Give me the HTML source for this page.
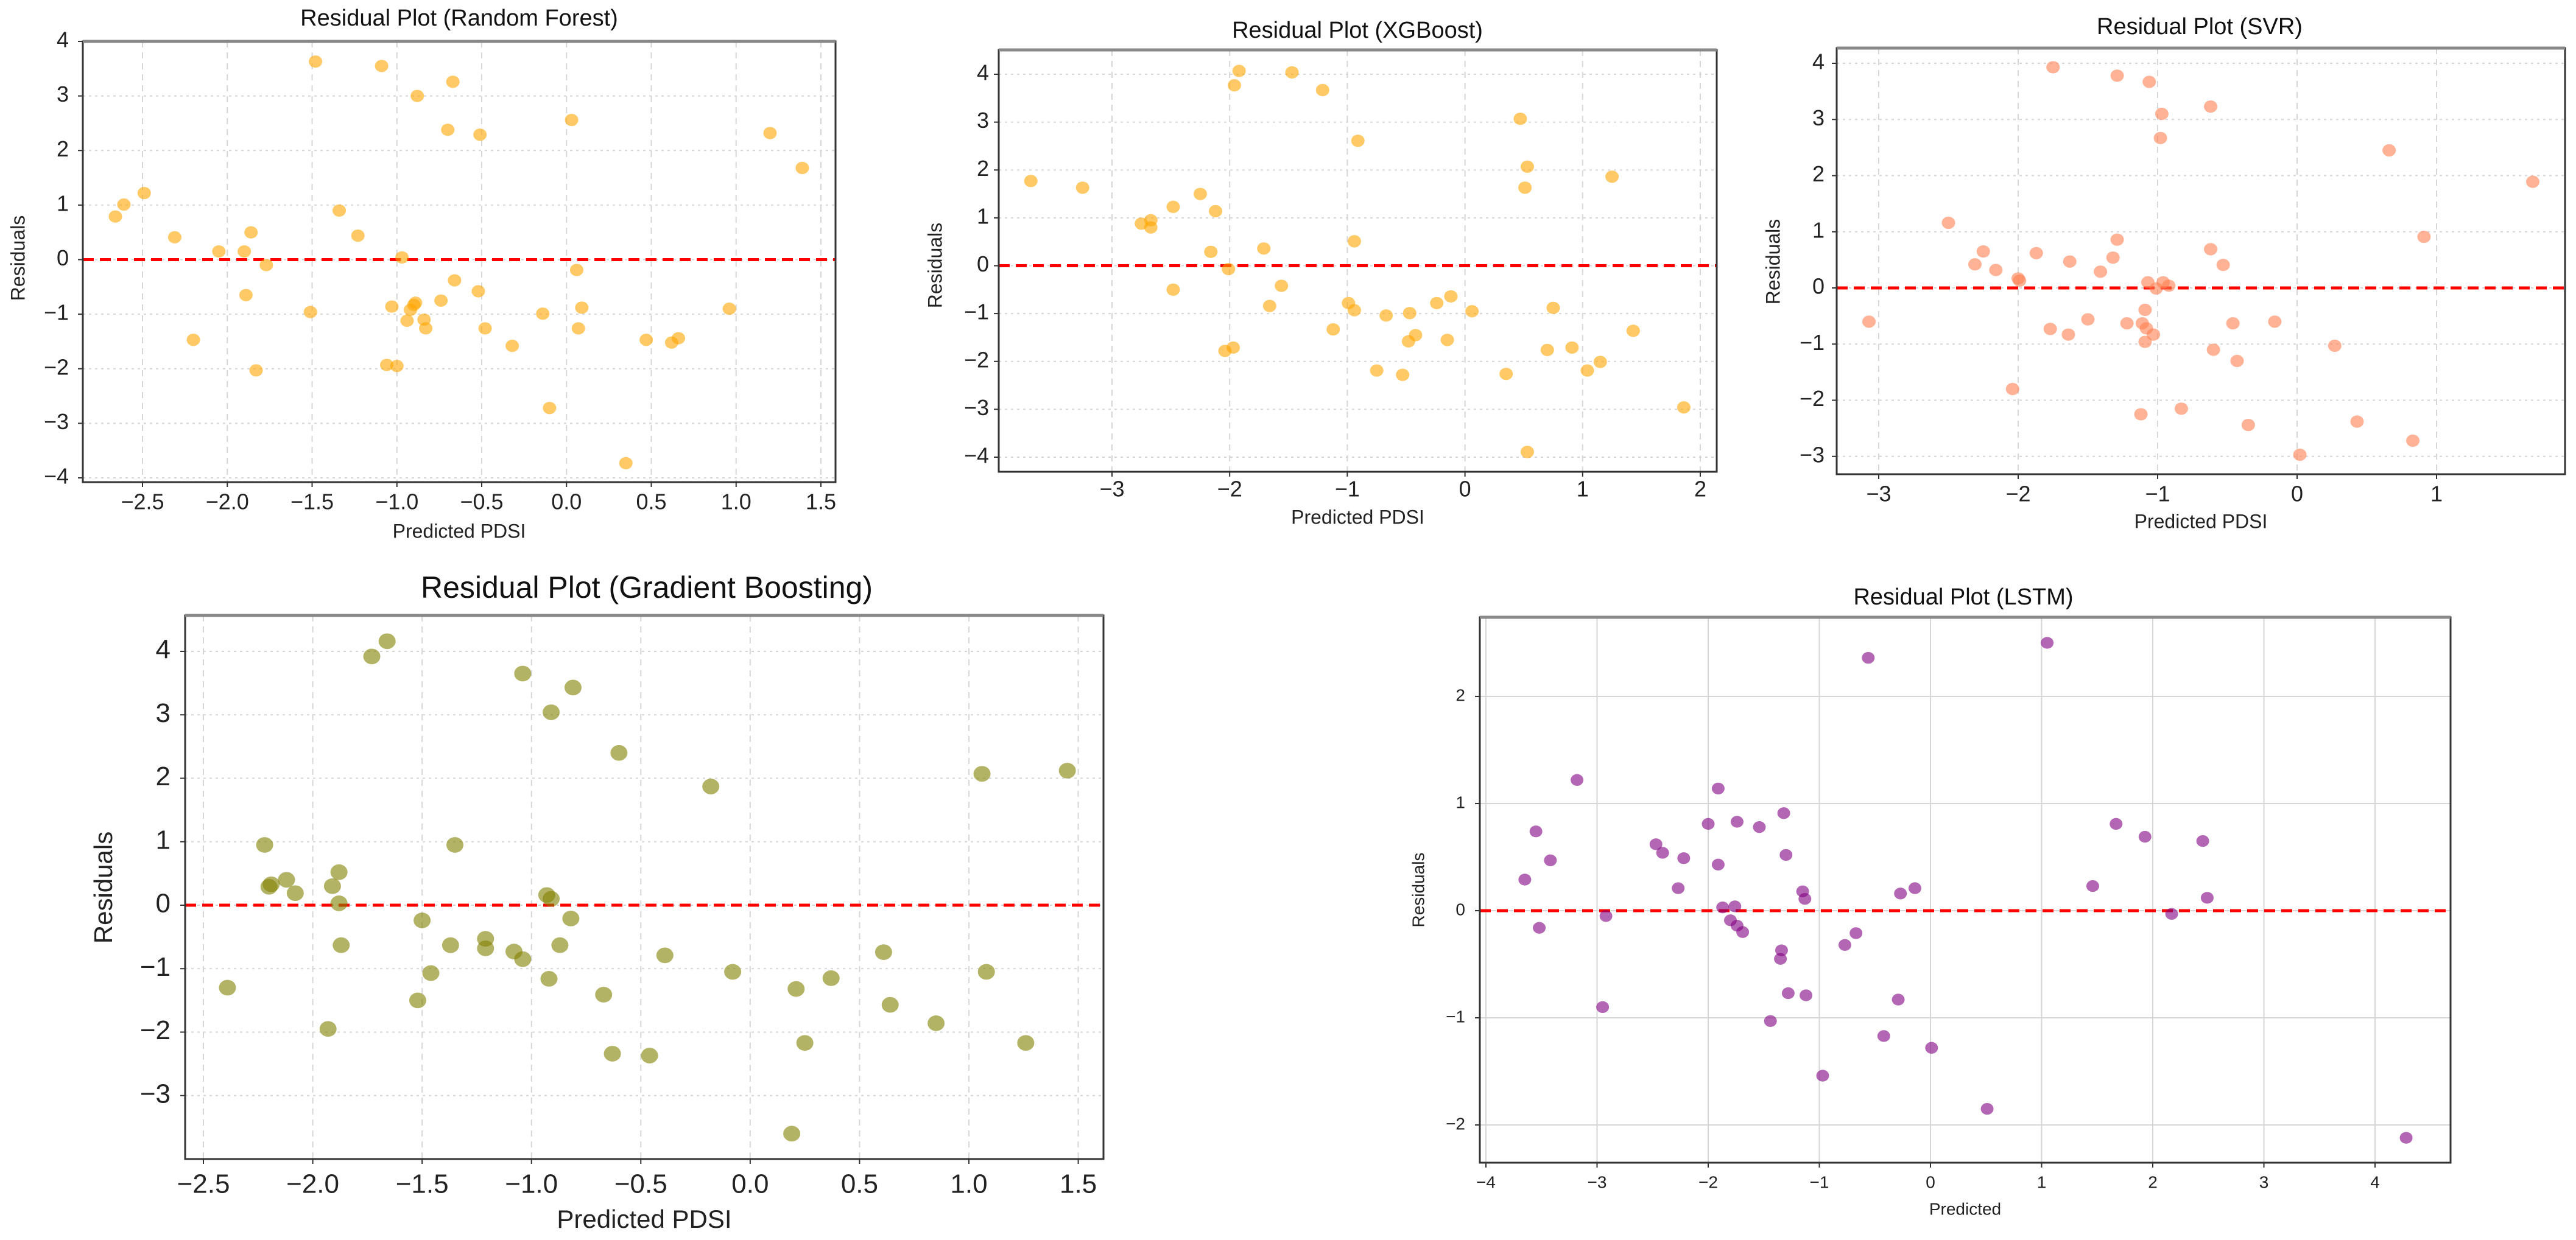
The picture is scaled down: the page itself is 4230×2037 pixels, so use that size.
<!DOCTYPE html>
<html><head><meta charset="utf-8">
<style>
html,body{margin:0;padding:0;background:#fff;}
svg{display:block;font-family:"Liberation Sans","DejaVu Sans",sans-serif;}
</style></head>
<body>
<svg id="fig" width="4230" height="2037" viewBox="0 0 4230 2037" xmlns="http://www.w3.org/2000/svg">
<rect width="4230" height="2037" fill="#fff"/>
</svg>
<script>
const rfX=[-2.66,-2.61,-2.49,-2.31,-2.20,-2.05,-1.90,-1.86,-1.89,-1.83,-1.77,-1.51,-1.48,-1.34,-1.23,-1.09,-1.06,-1.03,-1.00,-0.97,-0.94,-0.92,-0.90,-0.89,-0.88,-0.84,-0.83,-0.74,-0.70,-0.67,-0.66,-0.52,-0.51,-0.48,-0.32,-0.14,-0.10,0.03,0.06,0.07,0.09,0.35,0.47,0.62,0.66,0.96,1.20,1.39];
const rfY=[0.79,1.01,1.22,0.41,-1.47,0.15,0.15,0.50,-0.65,-2.03,-0.10,-0.96,3.63,0.90,0.44,3.55,-1.93,-0.86,-1.95,0.04,-1.12,-0.92,-0.83,-0.79,3.00,-1.10,-1.26,-0.75,2.38,3.26,-0.38,-0.58,2.29,-1.26,-1.58,-0.99,-2.72,2.56,-0.19,-1.26,-0.88,-3.73,-1.47,-1.52,-1.44,-0.90,2.32,1.68];
const xgbX=[-3.69,-3.25,-2.75,-2.67,-2.67,-2.48,-2.48,-2.25,-2.16,-2.12,-2.04,-2.01,-1.97,-1.96,-1.92,-1.71,-1.66,-1.56,-1.47,-1.21,-1.12,-0.99,-0.94,-0.94,-0.91,-0.75,-0.67,-0.53,-0.48,-0.47,-0.42,-0.24,-0.15,-0.12,0.06,0.35,0.47,0.51,0.53,0.53,0.70,0.75,0.91,1.04,1.15,1.25,1.43,1.86];
const xgbY=[1.77,1.63,0.88,0.95,0.80,1.23,-0.50,1.50,0.29,1.14,-1.78,-0.07,-1.71,3.77,4.07,0.36,-0.84,-0.42,4.04,3.67,-1.33,-0.78,-0.93,0.51,2.61,-2.19,-1.04,-2.28,-1.58,-0.99,-1.45,-0.78,-1.55,-0.64,-0.95,-2.26,3.07,1.63,2.07,-3.89,-1.76,-0.88,-1.71,-2.19,-2.01,1.86,-1.36,-2.96];
const svrX=[-3.07,-2.50,-2.31,-2.25,-2.16,-2.04,-2.00,-1.99,-1.87,-1.77,-1.75,-1.64,-1.63,-1.50,-1.41,-1.32,-1.29,-1.29,-1.22,-1.12,-1.11,-1.09,-1.09,-1.08,-1.07,-1.06,-1.03,-1.01,-0.98,-0.97,-0.96,-0.92,-0.83,-0.62,-0.62,-0.60,-0.53,-0.46,-0.43,-0.35,-0.16,0.02,0.27,0.43,0.66,0.83,0.91,1.69];
const svrY=[-0.60,1.16,0.42,0.65,0.32,-1.80,0.17,0.13,0.62,-0.73,3.93,-0.83,0.47,-0.56,0.29,0.54,3.78,0.86,-0.63,-2.25,-0.63,-0.39,-0.96,-0.72,0.10,3.67,-0.83,-0.01,2.67,3.10,0.10,0.04,-2.15,3.23,0.69,-1.10,0.41,-0.63,-1.30,-2.44,-0.60,-2.97,-1.03,-2.38,2.45,-2.72,0.91,1.89];
const gbX=[-2.39,-2.22,-2.20,-2.19,-2.12,-2.08,-1.93,-1.91,-1.88,-1.88,-1.87,-1.73,-1.66,-1.52,-1.50,-1.46,-1.37,-1.35,-1.21,-1.21,-1.08,-1.04,-1.04,-0.93,-0.91,-0.92,-0.91,-0.87,-0.82,-0.81,-0.67,-0.63,-0.60,-0.46,-0.39,-0.18,-0.08,0.19,0.21,0.25,0.37,0.61,0.64,0.85,1.06,1.08,1.26,1.45];
const gbY=[-1.30,0.95,0.29,0.33,0.40,0.19,-1.95,0.30,0.52,0.03,-0.63,3.92,4.16,-1.50,-0.24,-1.07,-0.63,0.95,-0.53,-0.68,-0.73,-0.85,3.65,0.16,0.10,-1.16,3.04,-0.63,-0.21,3.43,-1.41,-2.34,2.40,-2.37,-0.79,1.87,-1.05,-3.60,-1.32,-2.17,-1.15,-0.74,-1.57,-1.86,2.07,-1.05,-2.17,2.12];
const lstmX=[-3.65,-3.55,-3.52,-3.42,-3.18,-2.95,-2.92,-2.47,-2.41,-2.27,-2.22,-2.00,-1.91,-1.91,-1.87,-1.80,-1.76,-1.74,-1.74,-1.69,-1.54,-1.44,-1.35,-1.34,-1.32,-1.30,-1.28,-1.15,-1.13,-1.12,-0.97,-0.77,-0.67,-0.56,-0.42,-0.29,-0.27,-0.14,0.01,0.51,1.05,1.46,1.67,1.93,2.17,2.45,2.49,4.28];
const lstmY=[0.29,0.74,-0.16,0.47,1.22,-0.90,-0.05,0.62,0.54,0.21,0.49,0.81,1.14,0.43,0.03,-0.09,0.04,-0.14,0.83,-0.20,0.78,-1.03,-0.45,-0.37,0.91,0.52,-0.77,0.18,0.11,-0.79,-1.54,-0.32,-0.21,2.36,-1.17,-0.83,0.16,0.21,-1.28,-1.85,2.50,0.23,0.81,0.69,-0.03,0.65,0.12,-2.12];
const rfXTicks=[-2.5,-2.0,-1.5,-1.0,-0.5,0.0,0.5,1.0,1.5];
const rfYTicks=[-4,-3,-2,-1,0,1,2,3,4];
const xgbXTicks=[-3,-2,-1,0,1,2];
const xgbYTicks=[-4,-3,-2,-1,0,1,2,3,4];
const svrXTicks=[-3,-2,-1,0,1];
const svrYTicks=[-3,-2,-1,0,1,2,3,4];
const gbXTicks=[-2.5,-2.0,-1.5,-1.0,-0.5,0.0,0.5,1.0,1.5];
const gbYTicks=[-3,-2,-1,0,1,2,3,4];
const lstmXTicks=[-4,-3,-2,-1,0,1,2,3,4];
const lstmYTicks=[-2,-1,0,1,2];

const NS="http://www.w3.org/2000/svg";
const fig=document.getElementById('fig');
function mk(tag,attrs,parent){const e=document.createElementNS(NS,tag);for(const k in attrs)e.setAttribute(k,attrs[k]);(parent||fig).appendChild(e);return e;}
function fmt(v,dec){const s=Math.abs(v).toFixed(dec);return (v<0?'\u2212':'')+s;}

const panels=[
 {id:'random-forest',title:'Residual Plot (Random Forest)',xl:'Predicted PDSI',X:rfX,Y:rfY,xt:rfXTicks,yt:rfYTicks,dec:1,
  L:136,R:1372,T:68,B:792,xa:[-2.5,234,1.5,1348],ya:[4,68,-4,785],tx:754,ty:32,xly:875,yly:424,ylx:32,ytr:113,xty:827,
  col:'#FFA500',r:11,fs:36,tfs:38,lfs:32,grid:'dash'},
 {id:'xgboost',title:'Residual Plot (XGBoost)',xl:'Predicted PDSI',X:xgbX,Y:xgbY,xt:xgbXTicks,yt:xgbYTicks,dec:0,
  L:1640,R:2819,T:82,B:775,xa:[-3,1826,2,2792],ya:[4,122,-4,751],tx:2229,ty:52,xly:852,yly:436,ylx:1538,ytr:1624,xty:806,
  col:'#FFA500',r:11,fs:36,tfs:38,lfs:32,grid:'dash'},
 {id:'svr',title:'Residual Plot (SVR)',xl:'Predicted PDSI',X:svrX,Y:svrY,xt:svrXTicks,yt:svrYTicks,dec:0,
  L:3016,R:4212,T:79,B:779,xa:[-3,3085,1,4001],ya:[4,104,0,473],tx:3612,ty:46,xly:859,yly:430,ylx:2914,ytr:2996,xty:814,
  col:'#FF7F50',r:11,fs:36,tfs:38,lfs:32,grid:'dash'},
 {id:'gradient-boosting',title:'Residual Plot (Gradient Boosting)',xl:'Predicted PDSI',X:gbX,Y:gbY,xt:gbXTicks,yt:gbYTicks,dec:1,
  L:304,R:1812,T:1011,B:1904,xa:[-2.5,334,1.0,1591],ya:[4,1070,0,1487],tx:1062,ty:969,xly:2006,yly:1458,ylx:173,ytr:280,xty:1948,
  col:'#808000',r:14,fs:44,tfs:50,lfs:42,grid:'dash'},
 {id:'lstm',title:'Residual Plot (LSTM)',xl:'Predicted',X:lstmX,Y:lstmY,xt:lstmXTicks,yt:lstmYTicks,dec:0,
  L:2430,R:4024,T:1014,B:1910,xa:[-4,2440,4,3900],ya:[2,1144,-2,1848],tx:3224,ty:983,xly:1988,yly:1462,ylx:2331,ytr:2406,xty:1944,
  col:'#800080',r:10.5,fs:28,tfs:38,lfs:28,grid:'solid'}
];

panels.forEach(p=>{
  const g=mk('g',{});
  
  
  const sx=v=>p.xa[1]+(v-p.xa[0])*(p.xa[3]-p.xa[1])/(p.xa[2]-p.xa[0]);
  const sy=v=>p.ya[1]+(v-p.ya[0])*(p.ya[3]-p.ya[1])/(p.ya[2]-p.ya[0]);
  p.xt.forEach(v=>{
    const l=mk('line',{x1:sx(v),x2:sx(v),y1:p.T,y2:p.B,stroke:'#d6d6d6','stroke-width':2,'stroke-dasharray':p.grid==='dash'?'10,8':'none'},g);
    
    
  });
  p.yt.forEach(v=>{
    const l=mk('line',{x1:p.L,x2:p.R,y1:sy(v),y2:sy(v),stroke:'#d6d6d6','stroke-width':2,'stroke-dasharray':p.grid==='dash'?'4,6':'none'},g);
    
    
  });
  const z=mk('line',{x1:p.L,x2:p.R,y1:sy(0),y2:sy(0),stroke:'#ff0000','stroke-width':5,'stroke-dasharray':'18,10'},g);
  
  
  p.X.forEach((xv,i)=>{
    const c=mk('ellipse',{cx:sx(xv),cy:sy(p.Y[i]),rx:p.r,ry:p.r*0.92,fill:p.col,'fill-opacity':0.6},g);
    
    
  });
  const fr=mk('rect',{x:p.L,y:p.T,width:p.R-p.L,height:p.B-p.T,fill:'none',stroke:'#333','stroke-width':3},g);
  
  
  mk('line',{x1:p.L,x2:p.R,y1:p.T,y2:p.T,stroke:'#888','stroke-width':5},g);
  p.xt.forEach(v=>{
    mk('line',{x1:sx(v),x2:sx(v),y1:p.B,y2:p.B+8,stroke:'#333','stroke-width':2},g);
    const t=mk('text',{x:sx(v),y:p.xty,'font-size':p.fs,'text-anchor':'middle','dominant-baseline':'middle',fill:'#222'},g);
    t.textContent=fmt(v,p.dec);
    
    
  });
  p.yt.forEach(v=>{
    mk('line',{x1:p.L-8,x2:p.L,y1:sy(v),y2:sy(v),stroke:'#333','stroke-width':2},g);
    const t=mk('text',{x:p.ytr,y:sy(v),'font-size':p.fs,'text-anchor':'end','dominant-baseline':'middle',fill:'#222'},g);
    t.textContent=fmt(v,0);
    
    
  });
  const ti=mk('text',{x:p.tx,y:p.ty,'font-size':p.tfs,'text-anchor':'middle','dominant-baseline':'middle',fill:'#111'},g);
  ti.textContent=p.title;
  
  
  const xl=mk('text',{x:(p.L+p.R)/2,y:p.xly,'font-size':p.lfs,'text-anchor':'middle','dominant-baseline':'middle',fill:'#222'},g);
  xl.textContent=p.xl;
  
  
  const yl=mk('text',{x:p.ylx,y:p.yly,'font-size':p.lfs,'text-anchor':'middle','dominant-baseline':'middle',fill:'#222',transform:`rotate(-90 ${p.ylx} ${p.yly})`},g);
  yl.textContent='Residuals';
  
  
});
</script>
</body></html>
